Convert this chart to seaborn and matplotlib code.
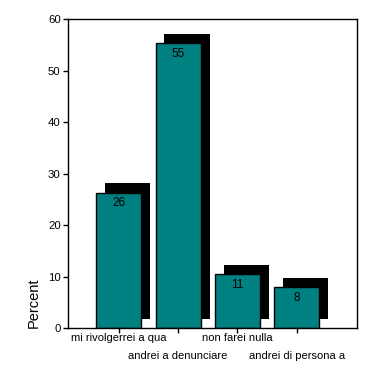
import matplotlib
matplotlib.use("Agg")
import matplotlib.pyplot as plt
import seaborn as sns
import numpy as np
import pandas as pd

categories = ["mi rivolgerrei a qua", "andrei a denunciare", "non farei nulla", "andrei di persona a"]
values = [26.3, 55.4, 10.5, 7.9]
value_labels = ["26", "55", "11", "8"]
y_ticks = [0, 10, 20, 30, 40, 50, 60]

sns.set_theme(style="white")
plt.rcParams['font.family'] = ['Liberation Sans', 'DejaVu Sans']

fig = plt.figure(figsize=(3.76, 3.76), dpi=100)
ax = fig.add_axes([0.1817, 0.1277, 0.767, 0.821])

df = pd.DataFrame({"cat": categories, "val": values})
teal = "#008080"

# shadow bars (3D effect)
x = np.arange(len(categories))
shadow = ax.bar(x + 0.15, values, width=0.76, bottom=1.8, color="black", edgecolor="black",
                linewidth=0, zorder=1)
n_shadow = len(ax.patches)

sns.barplot(data=df, x="cat", y="val", ax=ax, color=teal, width=0.76,
            edgecolor="black", linewidth=1.0, saturation=1, zorder=2)
for p in ax.patches[n_shadow:]:
    p.set_facecolor(teal)
for p in shadow:
    p.set_facecolor("black")

for i, (v, lab) in enumerate(zip(values, value_labels)):
    ax.text(i, v - 0.9, lab, ha="center", va="top", fontsize=8.5, color="black", zorder=3)

ax.set_xlim(-0.85, 4.01)
ax.set_ylim(0, 60)
ax.set_yticks(y_ticks)
ax.set_yticklabels([str(t) for t in y_ticks], fontsize=8.2)
ax.set_xticks(x)
ax.set_xticklabels([])
for i, c in enumerate(categories):
    yoff = -0.016 if i % 2 == 0 else -0.073
    ax.text(i, yoff, c, transform=ax.get_xaxis_transform(), ha="center", va="top",
            fontsize=8, color="black")

ax.set_xlabel("")
ax.set_ylabel("Percent", fontsize=10.5, loc="bottom", color="black", labelpad=5)
ax.tick_params(axis="both", which="both", direction="out", length=3.5, width=1,
               color="black", labelcolor="black", pad=2, left=True, bottom=True)
for s in ax.spines.values():
    s.set_color("black")
    s.set_linewidth(1.0)
    s.set_visible(True)
ax.grid(False)
ax.set_facecolor("white")
fig.patch.set_facecolor("white")

fig.savefig("out.png", dpi=100, facecolor="white")
